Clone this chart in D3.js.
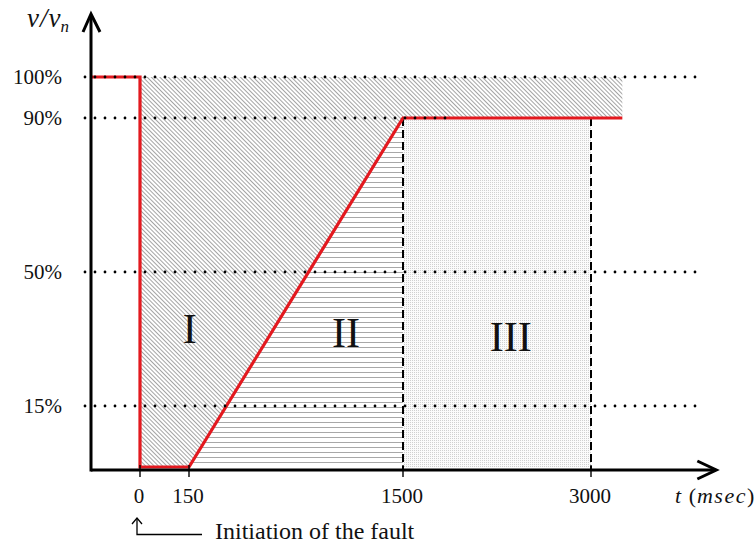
<!DOCTYPE html>
<html>
<head>
<meta charset="utf-8">
<script src="https://cdn.jsdelivr.net/npm/d3@7"></script>
<style>
  body { margin: 0; background: #fff; }
  svg { display: block; }
</style>
</head>
<body>
<svg id="chart" width="756" height="546"></svg>
<script>
// Fault ride-through voltage profile (time in ms, voltage in % of nominal)
const tickTimes = [0, 150, 1500, 3000];
const tickLabels = ["0", "150", "1500", "3000"];
const levels = [100, 90, 50, 15];
const levelLabels = ["100%", "90%", "50%", "15%"];
const levelEnds = [3900, 1875, 3900, 3900];   // where each dotted guide stops (ms)
const profileT = [-150, 0, 0, 150, 1500, 3250];
const profileV = [100, 100, 0, 0, 90, 90];
const zoneNames = ["I", "II", "III"];
const zoneT = [155, 1140, 2360];
const zoneV = [35, 34, 33];
const axisT = [-150, 4000];
const faultNote = "Initiation of the fault";

const svg = d3.select("#chart");
const serif = "'Liberation Serif', 'Times New Roman', serif";
const red = "#e3191f";

// schematic (piecewise) time axis and voltage axis
const x = d3.scaleLinear().domain([-150, 0, 150, 1500, 3000]).range([91, 140, 189, 403, 591]);
const y = d3.scaleLinear().domain([0, 15, 50, 90, 100]).range([467, 406, 272, 118, 77]);
const axisY = 470;

// fill patterns
const defs = svg.append("defs");
const diag = defs.append("pattern").attr("id", "hatchDiag")
  .attr("patternUnits", "userSpaceOnUse").attr("width", 3).attr("height", 3)
  .attr("patternTransform", "rotate(-45)");
diag.append("line").attr("x1", 1.5).attr("y1", -1).attr("x2", 1.5).attr("y2", 4)
  .attr("stroke", "#939393").attr("stroke-width", 0.85);

const horiz = defs.append("pattern").attr("id", "hatchHoriz")
  .attr("patternUnits", "userSpaceOnUse").attr("width", 10).attr("height", 5);
horiz.append("line").attr("x1", 0).attr("y1", 2.5).attr("x2", 10).attr("y2", 2.5)
  .attr("stroke", "#a8a8a8").attr("stroke-width", 1);

const stip = defs.append("pattern").attr("id", "stipple")
  .attr("patternUnits", "userSpaceOnUse").attr("width", 2).attr("height", 2);
stip.append("rect").attr("width", 2).attr("height", 2).attr("fill", "#fbfbfb");
stip.append("rect").attr("width", 1).attr("height", 1).attr("fill", "#d0d0d0");

// zones
const tEnd = profileT[profileT.length - 1];
const zones = [
  { fill: "url(#hatchDiag)", pts: [[0, 100], [tEnd, 100], [tEnd, 90], [1500, 90], [150, 0], [0, 0]] },
  { fill: "url(#hatchHoriz)", pts: [[150, 0], [1500, 90], [1500, 0]] },
  { fill: "url(#stipple)", pts: [[1500, 90], [3000, 90], [3000, 0], [1500, 0]] }
];
const polyLine = d3.line().x(d => x(d[0])).y(d => y(d[1]));
svg.append("g").selectAll("path").data(zones).join("path")
  .attr("d", d => polyLine(d.pts) + "Z")
  .attr("fill", d => d.fill);

// dashed boundaries at 1500 and 3000 ms
svg.append("g").selectAll("line").data([1500, 3000]).join("line")
  .attr("x1", d => x(d)).attr("x2", d => x(d))
  .attr("y1", y(90)).attr("y2", axisY)
  .attr("stroke", "#000").attr("stroke-width", 2).attr("stroke-dasharray", "8 4");

// voltage profile
const profile = profileT.map((t, i) => [t, profileV[i]]);
svg.append("path").attr("d", polyLine(profile))
  .attr("fill", "none").attr("stroke", red).attr("stroke-width", 3.2)
  .attr("stroke-linejoin", "miter");

// dotted level guides
svg.append("g").selectAll("line").data(levels).join("line")
  .attr("x1", x(axisT[0]) - 6).attr("x2", (d, i) => x(levelEnds[i]))
  .attr("y1", d => y(d)).attr("y2", d => y(d))
  .attr("stroke", "#000").attr("stroke-width", 2.8)
  .attr("stroke-linecap", "round").attr("stroke-dasharray", "0 10");

// axes
const axes = svg.append("g").attr("stroke", "#000").attr("fill", "none")
  .attr("stroke-width", 3);
const x0 = x(axisT[0]), x1 = x(axisT[1]);
axes.append("line").attr("x1", x0).attr("x2", x1 - 1).attr("y1", axisY).attr("y2", axisY);
axes.append("line").attr("x1", x0).attr("x2", x0).attr("y1", axisY + 1.5).attr("y2", 15);
axes.append("path").attr("d", `M${x0 - 8},32 L${x0},14 L${x0 + 9},32`)
  .attr("stroke-linejoin", "miter");
axes.append("path").attr("d", `M${x1 - 19},461 L${x1},${axisY} L${x1 - 19},479`)
  .attr("stroke-linejoin", "miter");

// x ticks and labels
svg.append("g").selectAll("line").data(tickTimes).join("line")
  .attr("x1", d => x(d)).attr("x2", d => x(d))
  .attr("y1", axisY - 5).attr("y2", axisY + 7)
  .attr("stroke", "#000").attr("stroke-width", 1.4);
svg.append("g").selectAll("text").data(tickTimes).join("text")
  .attr("x", d => x(d) - 1).attr("y", 503)
  .attr("text-anchor", "middle")
  .style("font", `21px ${serif}`).attr("fill", "#111")
  .text((d, i) => tickLabels[i]);

// y labels
svg.append("g").selectAll("text").data(levels).join("text")
  .attr("x", 62).attr("y", d => y(d) + 7)
  .attr("text-anchor", "end")
  .style("font", `21px ${serif}`).attr("fill", "#111")
  .text((d, i) => levelLabels[i]);

// zone names
svg.append("g").selectAll("text").data(zoneNames).join("text")
  .attr("x", (d, i) => x(zoneT[i]))
  .attr("y", (d, i) => y(zoneV[i]) + 14)
  .attr("text-anchor", "middle")
  .style("font", `42px ${serif}`).attr("fill", "#111")
  .text(d => d);

// axis titles
const yt = svg.append("text").attr("x", 27).attr("y", 27)
  .style("font", `italic 27px ${serif}`).attr("fill", "#111");
yt.append("tspan").text("v");
yt.append("tspan").text("/").attr("dx", 1);
yt.append("tspan").text("v").attr("dx", 1);
yt.append("tspan").text("n").attr("dy", 5).style("font-size", "17px");

const xt = svg.append("text").attr("x", 675).attr("y", 503)
  .style("font", `22px ${serif}`).attr("fill", "#111");
xt.append("tspan").text("t").style("font-style", "italic");
xt.append("tspan").text(" (").attr("dx", 2);
xt.append("tspan").text("msec").style("font-style", "italic").attr("dx", 1)
  .style("letter-spacing", "1.5px");
xt.append("tspan").text(")");

// fault-initiation note
const note = svg.append("g").attr("stroke", "#000").attr("fill", "none").attr("stroke-width", 1.3);
const fx = x(0) - 3;
note.append("path").attr("d", `M${fx - 5},524 L${fx},518 L${fx + 5},524`);
note.append("path").attr("d", `M${fx},518.5 L${fx},534.5 L202,534.5`);
svg.append("text").attr("x", 215).attr("y", 539)
  .style("font", `24px ${serif}`).attr("fill", "#111")
  .text(faultNote);
</script>
</body>
</html>
